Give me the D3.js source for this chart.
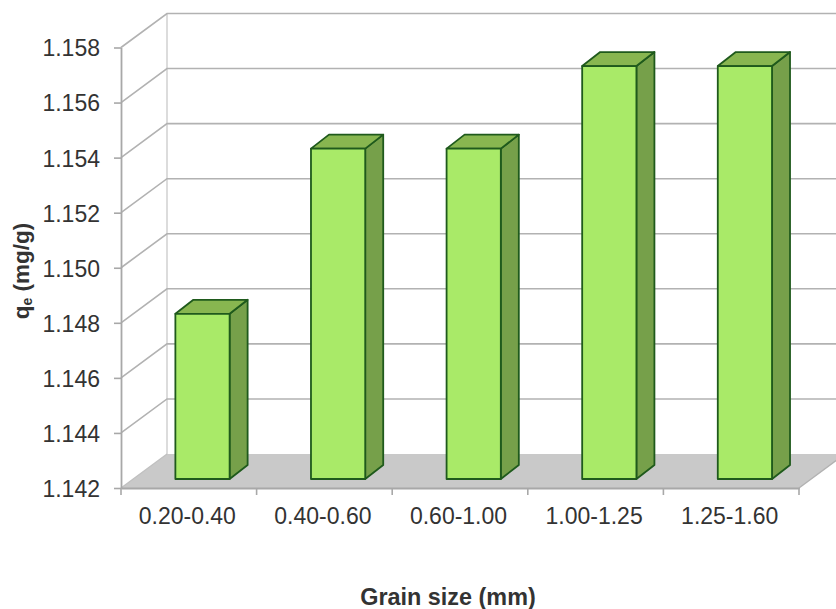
<!DOCTYPE html>
<html>
<head>
<meta charset="utf-8">
<style>
  html, body { margin: 0; padding: 0; background: #fff; }
  svg { display: block; }
  text { font-family: "Liberation Sans", Arial, sans-serif; fill: #333; }
</style>
<script src="https://cdn.jsdelivr.net/npm/d3@7/dist/d3.min.js"></script>
</head>
<body>
<svg id="chart" width="836" height="609"></svg>
<script>
const categories = ["0.20-0.40", "0.40-0.60", "0.60-1.00", "1.00-1.25", "1.25-1.60"];
const values = [1.148, 1.154, 1.154, 1.157, 1.157];
const yTicks = [1.142, 1.144, 1.146, 1.148, 1.150, 1.152, 1.154, 1.156, 1.158];
const xTitle = "Grain size (mm)";
const yTitle = "q";
const yTitleSub = "e";

const svg = d3.select("#chart");
const plotLeft = 121, plotRight = 799, plotTop = 47.5, plotBottom = 488;
// Oblique projection of the chart box and of each bar's depth
const wallDx = 46, wallDy = -34;
const barShiftX = 13.7, barShiftY = -9;
const barDx = 18, barDy = -14;

const x = d3.scaleBand().domain(categories).range([plotLeft, plotRight]).paddingInner(0.6).paddingOuter(0.3);
const y = d3.scaleLinear().domain([1.142, 1.158]).range([plotBottom, plotTop]);
const poly = pts => pts.map(p => p.join(",")).join(" ");

// Floor
svg.append("polygon")
  .attr("points", poly([[plotLeft, plotBottom], [plotRight, plotBottom], [plotRight + wallDx, plotBottom + wallDy], [plotLeft + wallDx, plotBottom + wallDy]]))
  .attr("fill", "#c9c9c9");

// Back wall edge
svg.append("line")
  .attr("x1", plotLeft + wallDx).attr("x2", plotLeft + wallDx)
  .attr("y1", y(1.158) + wallDy).attr("y2", plotBottom + wallDy)
  .attr("stroke", "#dcdcdc").attr("stroke-width", 2);

// Gridlines running along the side wall and then the back wall
svg.append("g").selectAll("polyline").data(yTicks.slice(1)).join("polyline")
  .attr("points", d => poly([[plotLeft, y(d)], [plotLeft + wallDx, y(d) + wallDy], [plotRight + wallDx, y(d) + wallDy]]))
  .attr("fill", "none").attr("stroke", "#b2b2b2").attr("stroke-width", 1.6);

// Floor edges on the side walls
svg.append("line")
  .attr("x1", plotLeft).attr("y1", plotBottom).attr("x2", plotLeft + wallDx).attr("y2", plotBottom + wallDy)
  .attr("stroke", "#c0c0c0").attr("stroke-width", 1.2);
svg.append("line")
  .attr("x1", plotRight).attr("y1", plotBottom).attr("x2", plotRight + wallDx).attr("y2", plotBottom + wallDy)
  .attr("stroke", "#b2b2b2").attr("stroke-width", 1.4);

// Axes
const yAxis = d3.axisLeft(y).tickValues(yTicks).tickFormat(d3.format(".3f")).tickSize(7).tickPadding(14).tickSizeOuter(0);
const yG = svg.append("g").attr("transform", `translate(${plotLeft},0)`).call(yAxis);
yG.selectAll(".tick text").attr("y", 1);
const xBands = d3.scaleBand().domain(categories).range([plotLeft, plotRight]);
const xAxis = d3.axisBottom(xBands).tickSize(0).tickPadding(20);
const xG = svg.append("g").attr("transform", `translate(-1.5,${plotBottom})`).call(xAxis);
xG.select(".domain").attr("transform", "translate(1.5,0)");
svg.append("g").selectAll("line").data(d3.range(categories.length + 1)).join("line")
  .attr("x1", i => plotLeft + i * xBands.step()).attr("x2", i => plotLeft + i * xBands.step())
  .attr("y1", plotBottom).attr("y2", plotBottom + 7)
  .attr("stroke", "#a8a8a8").attr("stroke-width", 1.6);

[yG, xG].forEach(g => {
  g.selectAll(".domain").attr("stroke", "#a8a8a8").attr("stroke-width", 1.8);
  g.selectAll(".tick line").attr("stroke", "#a8a8a8").attr("stroke-width", 1.6);
  g.selectAll("text").attr("font-size", 23).attr("font-family", '"Liberation Sans", Arial, sans-serif').attr("fill", "#333");
});

// Bars: right side, top and front face
const bars = svg.append("g").selectAll("g").data(categories.map((c, i) => ({ c, v: values[i] }))).join("g");
const edge = { stroke: "#1f5a1c", width: 1.8 };
const faces = [
  { fill: "#76a04a", pts: (x0, x1, y0, y1) => [[x1, y1], [x1 + barDx, y1 + barDy], [x1 + barDx, y0 + barDy], [x1, y0]] },
  { fill: "#88b650", pts: (x0, x1, y0, y1) => [[x0, y1], [x0 + barDx, y1 + barDy], [x1 + barDx, y1 + barDy], [x1, y1]] },
  { fill: "#a9ea68", pts: (x0, x1, y0, y1) => [[x0, y0], [x0, y1], [x1, y1], [x1, y0]] }
];
faces.forEach(f => {
  bars.append("polygon")
    .attr("points", d => {
      const x0 = x(d.c) + barShiftX, x1 = x0 + x.bandwidth();
      return poly(f.pts(x0, x1, y(y.domain()[0]) + barShiftY, y(d.v) + barShiftY));
    })
    .attr("fill", f.fill).attr("stroke", edge.stroke).attr("stroke-width", edge.width).attr("stroke-linejoin", "round");
});

// Axis titles
svg.append("text").attr("x", 448).attr("y", 605).attr("text-anchor", "middle")
  .attr("font-size", 23.4).attr("font-weight", "bold").attr("fill", "#333").text(xTitle);
const yt = svg.append("text").attr("transform", "translate(29,271) rotate(-90)").attr("text-anchor", "middle")
  .attr("font-size", 22.5).attr("font-weight", "bold").attr("fill", "#333");
yt.append("tspan").text(yTitle);
yt.append("tspan").attr("font-size", 14).attr("dy", 3).text(yTitleSub);
yt.append("tspan").attr("dy", -3).text(" (mg/g)");
</script>
</body>
</html>
